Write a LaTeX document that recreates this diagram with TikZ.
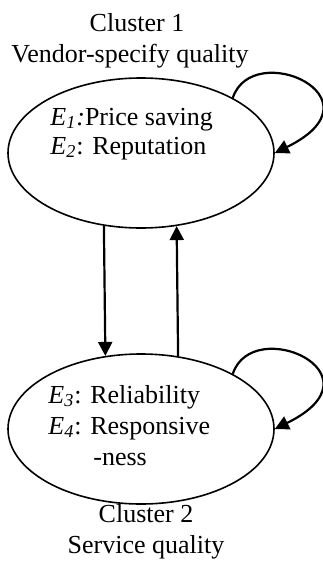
\documentclass[tikz,border=0pt]{standalone}
\usepackage{fontspec}
\setmainfont{Liberation Serif}
\usepackage{tikz}
\usetikzlibrary{shapes.geometric, arrows.meta}

\begin{document}
\begin{tikzpicture}[x=0.5pt, y=-0.5pt,
        font=\fontsize{13pt}{15.5pt}\selectfont,
        cluster/.style={draw, ellipse, line width=0.8pt, minimum width=133pt, minimum height=75pt, inner sep=0pt},
        item/.style={anchor=base west, inner sep=0pt},
        ttl/.style={anchor=base, inner sep=0pt},
        flow/.style={-{Triangle[length=7pt, width=7pt]}, line width=1.1pt}]
    \useasboundingbox (0,0) rectangle (322,563);
    \node[cluster] (c1) at (141,153) {};
    \node[cluster] (c2) at (141,429) {};
    \node[ttl] (t1) at (137,31) {Cluster 1};
    \node[ttl] (s1) at (130,62) {Vendor-specify quality};
    \node[ttl] (t2) at (146,522) {Cluster 2};
    \node[ttl] (s2) at (146,553) {Service quality};
    \node[item] (e1) at (50,125) {\textit{E\textsubscript{1}:}Price saving};
    \node[item] (e2) at (50,154) {\textit{E\textsubscript{2}}: Reputation};
    \node[item] (e3) at (48,403) {\textit{E\textsubscript{3}}: Reliability};
    \node[item] (e4) at (48,434) {\textit{E\textsubscript{4}}: Responsive};
    \node[item] (e5) at (93,465) {-ness};
    \draw[flow] (c1.243.4) -- (c2.116.6);
    \draw[flow] (c2.63.4) -- (c1.296.6);
    \draw[flow] (c1.31) .. controls +(20,-60) and +(112,-55) .. (c1.east);
    \draw[flow] (c2.31) .. controls +(20,-60) and +(112,-55) .. (c2.east);
\end{tikzpicture}
\end{document}
